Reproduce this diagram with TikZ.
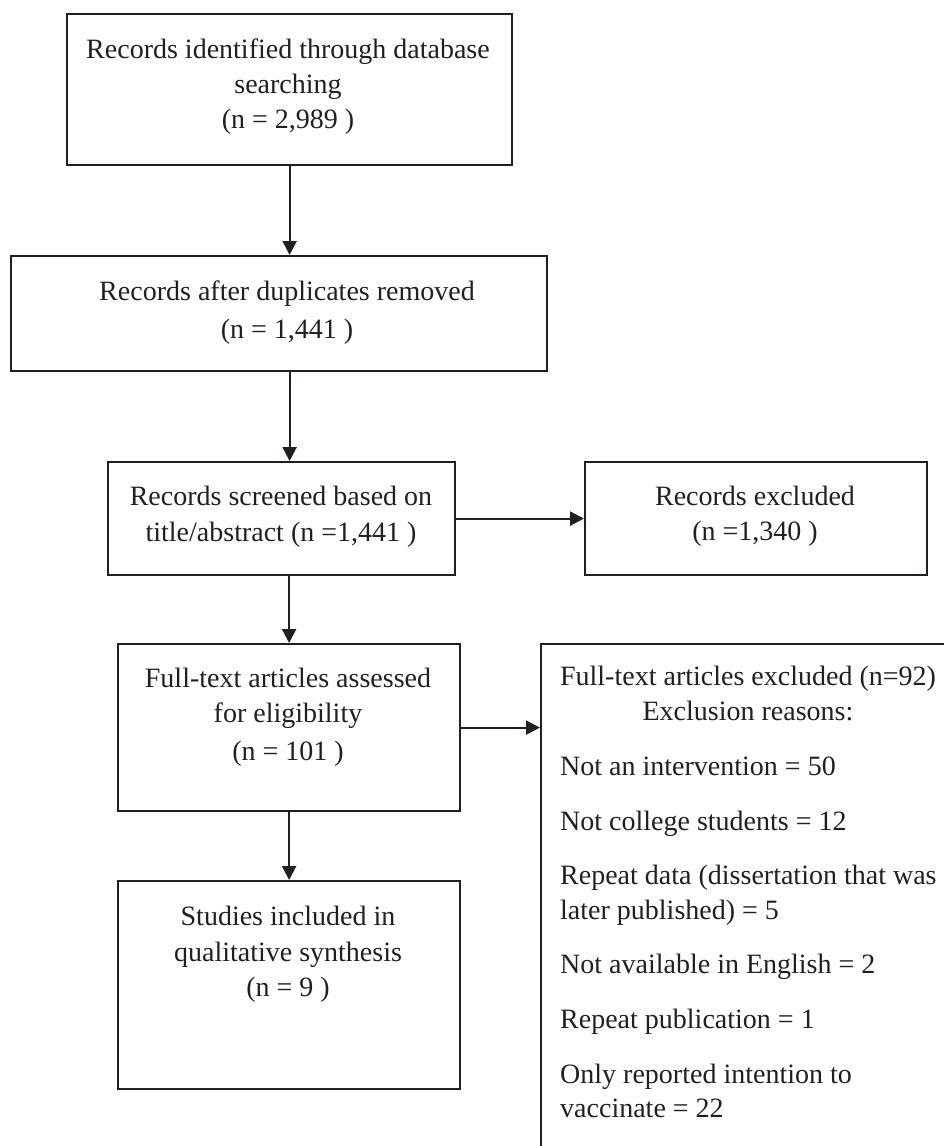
\documentclass[tikz,border=0pt]{standalone}
\usepackage{fontspec}
\setmainfont{Liberation Serif}
\usetikzlibrary{arrows.meta}
\definecolor{ink}{RGB}{35,31,32}
\begin{document}
\begin{tikzpicture}[x=1pt,y=-1pt,
  box/.style={draw=ink, line width=2.2pt, inner sep=0pt, anchor=north west},
  arr/.style={draw=ink, line width=2.2pt, -{Triangle[length=14pt,width=14pt]}},
  txt/.style={inner sep=0pt, anchor=base, text=ink, font=\fontsize{28}{35}\selectfont},
  itm/.style={txt, anchor=base west}]
\useasboundingbox (0,0) rectangle (944,1146);
\clip (0,0) rectangle (944,1146);
% boxes
\node[box, minimum width=445pt, minimum height=151pt] (b1) at (66,13) {};
\node[box, minimum width=536pt, minimum height=115pt] (b2) at (10,255) {};
\node[box, minimum width=347pt, minimum height=113pt] (b3) at (107,461) {};
\node[box, minimum width=342pt, minimum height=113pt] (b4) at (584,461) {};
\node[box, minimum width=342pt, minimum height=167pt] (b5) at (117,643) {};
\node[box, minimum width=500pt, minimum height=600pt] (b6) at (540,643) {};
\node[box, minimum width=342pt, minimum height=208pt] (b7) at (117,880) {};
% texts
\node[txt] (t1a) at (288,58) {Records identified through database};
\node[txt] (t1b) at (288,93) {searching};
\node[txt] (t1c) at (288,128) {(n = 2,989 )};
\node[txt] (t2a) at (287,300) {Records after duplicates removed};
\node[txt] (t2b) at (287,338) {(n = 1,441 )};
\node[txt] (t3a) at (281,505) {Records screened based on};
\node[txt] (t3b) at (281,541) {title/abstract (n =1,441 )};
\node[txt] (t4a) at (755,505) {Records excluded};
\node[txt] (t4b) at (755,540) {(n =1,340 )};
\node[txt] (t5a) at (288,687) {Full-text articles assessed};
\node[txt] (t5b) at (288,722) {for eligibility};
\node[txt] (t5c) at (288,760) {(n = 101 )};
\node[txt] (t6a) at (748,685) {Full-text articles excluded (n=92)};
\node[txt] (t6b) at (748,720) {Exclusion reasons:};
\node[itm] (i1) at (560,775) {Not an intervention = 50};
\node[itm] (i2) at (560,830) {Not college students = 12};
\node[itm] (i3a) at (560,884) {Repeat data (dissertation that was};
\node[itm] (i3b) at (560,919) {later published) = 5};
\node[itm] (i4) at (560,973) {Not available in English = 2};
\node[itm] (i5) at (560,1028) {Repeat publication = 1};
\node[itm] (i6a) at (560,1083) {Only reported intention to};
\node[itm] (i6b) at (560,1117) {vaccinate = 22};
\node[txt] (t7a) at (288,925) {Studies included in};
\node[txt] (t7b) at (288,961) {qualitative synthesis};
\node[txt] (t7c) at (288,996) {(n = 9 )};
% connectors
\draw[arr] (b1.south) -- (b1.south |- b2.north);
\draw[arr] (b2.south -| b1.south) -- (b3.north -| b1.south);
\draw[arr] (b3.east) -- (b4.west);
\draw[arr] (b3.south -| b5.north) -- (b5.north);
\draw[arr] (b5.east) -- (b5.east -| b6.west);
\draw[arr] (b5.south) -- (b7.north);
\end{tikzpicture}
\end{document}
